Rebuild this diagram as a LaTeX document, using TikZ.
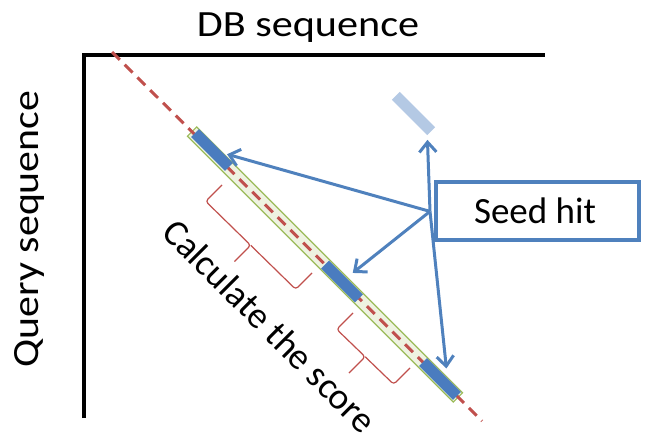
\documentclass[tikz,border=0pt]{standalone}
\usepackage{fontspec}
\setmainfont{Carlito}
\usetikzlibrary{arrows.meta,calc}
\definecolor{accblue}{HTML}{4F81BD}
\definecolor{seedblue}{HTML}{4A7CBF}
\definecolor{lightseed}{HTML}{B4C9E4}
\definecolor{accred}{HTML}{C0504D}
\definecolor{accgreen}{HTML}{9BBB59}
\definecolor{barfill}{HTML}{EEF3E1}
\tikzset{
  axisline/.style={line width=4pt, black},
  bigtext/.style={font=\fontsize{37}{40}\selectfont, inner sep=0pt},
  barbox/.style={draw=accgreen, fill=barfill, line width=1.2pt, rectangle, inner sep=0pt, minimum width=376pt, minimum height=13pt, rotate=-45},
  seedbox/.style={fill=seedblue, rectangle, inner sep=0pt, minimum width=48pt, minimum height=11pt, rotate=-45},
  lightbox/.style={fill=lightseed, rectangle, inner sep=0pt, minimum width=50pt, minimum height=11pt, rotate=-45},
  diag/.style={accred, line width=3pt, dash pattern=on 11pt off 7pt},
  bracestyle/.style={accred, line width=1.2pt, rounded corners=3pt},
  hitbox/.style={draw=accblue, line width=4pt, fill=white, rectangle, inner sep=0pt, minimum width=203pt, minimum height=58pt},
  arr/.style={accblue, line width=3pt, -{Straight Barb[length=10pt,width=17pt]}}
}
\begin{document}
\begin{tikzpicture}[x=1pt,y=-1pt]
\useasboundingbox (0,0) rectangle (645,439);
% axes
\draw[axisline] (83.5,418) -- (83.5,55) -- (545,55);
\node[bigtext, anchor=base, xscale=1.14] (dbl) at (308,36) {DB sequence};
\node[bigtext, anchor=base, rotate=90, xscale=1.13] (ql) at (38,229) {Query sequence};
% alignment bar
\node[barbox] (bar) at (325,264.5) {};
\draw[diag] (112,52) -- (482,421);
\node[seedbox] (seed1) at (212,150) {};
\node[seedbox] (seed2) at (342,281.5) {};
\node[seedbox] (seed3) at (440,379) {};
\node[lightbox] (lseed) at (413.5,113.5) {};
% braces
\draw[bracestyle] (222,185) -- (205.7,201.3) -- (250.7,245.3) -- (234.5,261.5);
\draw[bracestyle] (250.7,245.3) -- (295.7,289.3) -- (312,273);
\draw[bracestyle] (353,313) -- (336.7,329.3) -- (365.2,356.8) -- (349,373);
\draw[bracestyle] (365.2,356.8) -- (393.7,384.3) -- (410,368);
% label
\node[bigtext, rotate=-45] (calc) at (270,326) {Calculate the score};
% seed hit box
\node[hitbox] (sh) at (537,211.4) {};
\node[bigtext, anchor=base] (shl) at (535,223) {Seed hit};
\coordinate (hub) at ([xshift=-3.5pt]sh.west);
\draw[arr, shorten >=4pt] (hub) -- (seed1);
\draw[arr, shorten >=8pt] (hub) -- (seed2);
\draw[arr, shorten >=4.5pt] (hub) -- (lseed.south east);
\draw[arr, shorten >=10pt] (hub) -- ($(seed3.north)!0.2!(seed3.north east)$);
\end{tikzpicture}
\end{document}
